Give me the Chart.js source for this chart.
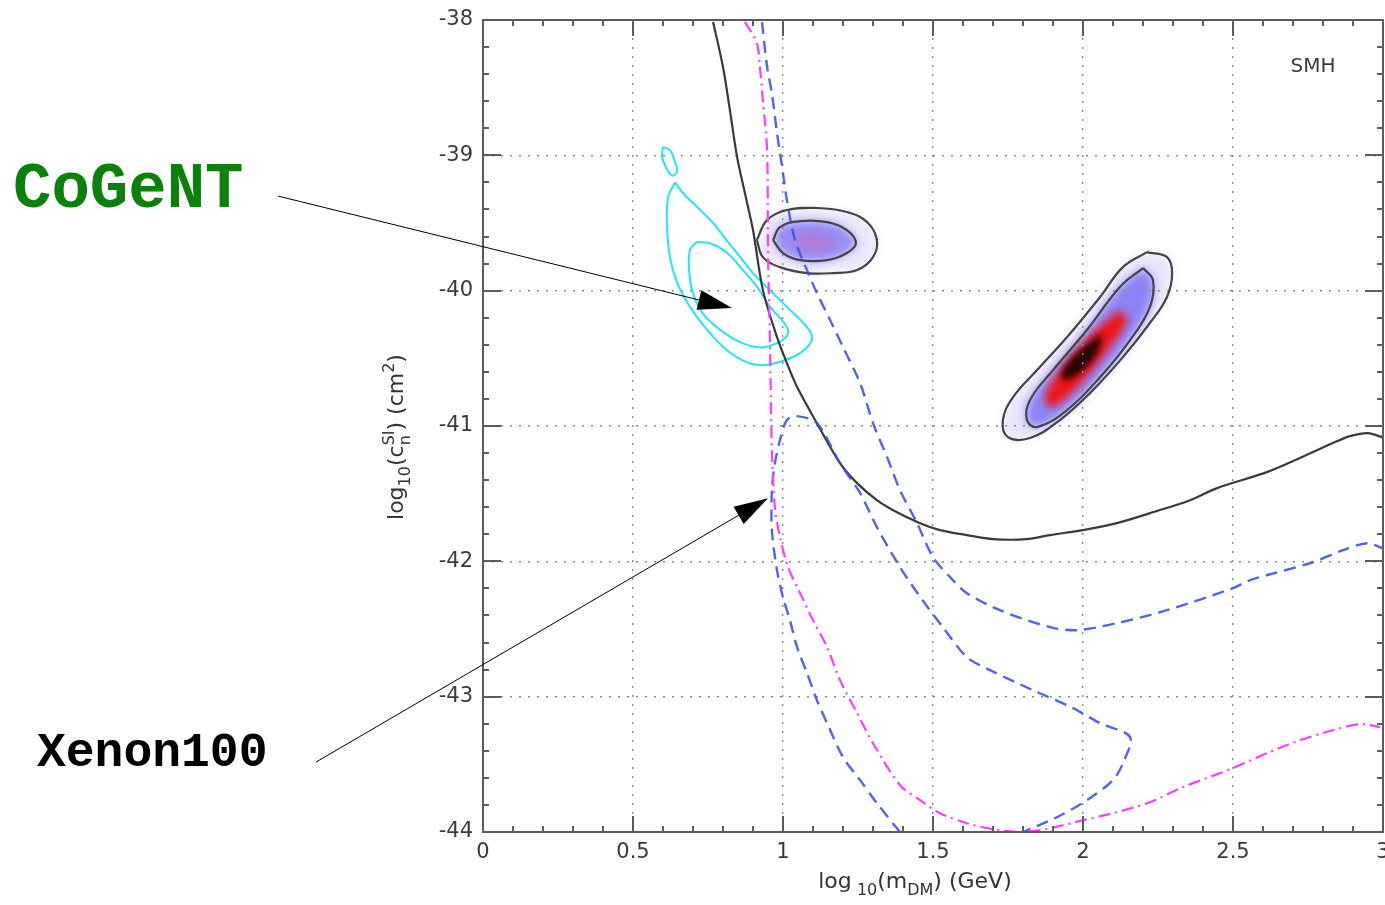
<!DOCTYPE html>
<html>
<head>
<meta charset="utf-8">
<title>SMH – spin-independent cross section vs DM mass</title>
<script src="https://cdn.jsdelivr.net/npm/chart.js@4.4.1/dist/chart.umd.min.js"></script>
<style>
  html, body { margin: 0; padding: 0; background: #fff; }
  #wrap { width: 1385px; height: 905px; }
</style>
</head>
<body>
<div id="wrap"><canvas id="plot" width="1385" height="905"></canvas></div>
<script>
/* ===================== AXES ===================== */

const X_TICKS = [0, 0.5, 1, 1.5, 2, 2.5, 3];
const X_TICK_LABELS = ["0", "0.5", "1", "1.5", "2", "2.5", "3"];
const Y_TICKS = [-44, -43, -42, -41, -40, -39, -38];
const Y_TICK_LABELS = ["-44", "-43", "-42", "-41", "-40", "-39", "-38"];
const X_MINOR_STEP = 0.1;
const Y_MINOR_STEP = 0.2;

/* ===================== LIMIT CURVES ===================== */

// solid black exclusion curve
const BLACK_X = [0.767, 0.80, 0.823, 0.847, 0.873, 0.90, 0.933, 0.98, 1.013, 1.047, 1.113, 1.19, 1.247, 1.313, 1.367, 1.457, 1.523, 1.613, 1.70, 1.813, 1.89, 2.0, 2.113, 2.223, 2.357, 2.447, 2.613, 2.723, 2.833, 2.89, 2.95, 2.997];
const BLACK_Y = [-38.015, -38.347, -38.665, -39.013, -39.279, -39.552, -39.996, -40.343, -40.535, -40.712, -40.979, -41.274, -41.422, -41.548, -41.622, -41.718, -41.769, -41.806, -41.836, -41.836, -41.806, -41.769, -41.718, -41.644, -41.548, -41.459, -41.341, -41.237, -41.126, -41.075, -41.052, -41.082];

// magenta dash-dot curve
const MAGENTA_X = [0.873, 0.913, 0.923, 0.933, 0.947, 0.95, 0.957, 0.963, 0.973, 0.99, 1.017, 1.057, 1.10, 1.147, 1.19, 1.247, 1.30, 1.39, 1.457, 1.523, 1.613, 1.70, 1.80, 1.89, 2.0, 2.113, 2.223, 2.333, 2.50, 2.613, 2.723, 2.833, 2.923, 2.99];
const MAGENTA_Y = [-38.015, -38.17, -38.347, -38.591, -38.961, -39.70, -40.439, -41.178, -41.599, -41.821, -42.043, -42.235, -42.435, -42.634, -42.878, -43.122, -43.344, -43.654, -43.765, -43.861, -43.935, -43.979, -44.0, -43.972, -43.913, -43.854, -43.78, -43.669, -43.528, -43.418, -43.322, -43.248, -43.203, -43.225];

// blue dashed, upper branch
const BLUE_A_X = [0.93, 0.947, 0.963, 0.98, 0.997, 1.013, 1.04, 1.08, 1.113, 1.157, 1.20, 1.257, 1.30, 1.347, 1.39, 1.447, 1.50, 1.557, 1.613, 1.723, 1.89, 1.98, 2.113, 2.28, 2.50, 2.557, 2.757, 2.867, 2.947, 2.997];
const BLUE_A_Y = [-38.015, -38.347, -38.54, -38.835, -39.086, -39.33, -39.626, -39.848, -40.018, -40.217, -40.417, -40.683, -40.979, -41.23, -41.474, -41.718, -41.969, -42.117, -42.235, -42.361, -42.486, -42.509, -42.457, -42.361, -42.198, -42.139, -42.013, -41.917, -41.866, -41.902];

// blue dashed, lower loop (path order)
const BLUE_B_X = [1.39, 1.313, 1.257, 1.20, 1.147, 1.113, 1.08, 1.047, 1.023, 1.0, 0.98, 0.963, 0.963, 0.973, 0.99, 1.013, 1.047, 1.113, 1.19, 1.257, 1.313, 1.39, 1.465, 1.533, 1.613, 1.69, 1.833, 1.967, 2.057, 2.157, 2.133, 2.10, 2.013, 1.913, 1.80];
const BLUE_B_Y = [-44.0, -43.787, -43.617, -43.447, -43.196, -43.026, -42.826, -42.634, -42.435, -42.265, -42.065, -41.769, -41.474, -41.274, -41.104, -40.956, -40.927, -40.979, -41.274, -41.496, -41.747, -42.043, -42.287, -42.487, -42.708, -42.804, -42.952, -43.085, -43.196, -43.299, -43.492, -43.617, -43.765, -43.891, -44.0];

/* ===================== CoGeNT CONTOURS ===================== */

const CYAN_OUT_X = [0.64, 0.617, 0.613, 0.623, 0.647, 0.69, 0.747, 0.813, 0.88, 0.923, 0.967, 1.033, 1.08, 1.097, 1.08, 1.013, 0.967, 0.9, 0.857, 0.813, 0.767, 0.713, 0.667, 0.64];
const CYAN_OUT_Y = [-39.20, -39.31, -39.50, -39.75, -39.94, -40.12, -40.29, -40.44, -40.53, -40.55, -40.54, -40.49, -40.42, -40.35, -40.27, -40.12, -40.02, -39.87, -39.75, -39.63, -39.50, -39.38, -39.28, -39.20];
const CYAN_IN_X = [0.713, 0.69, 0.687, 0.70, 0.733, 0.79, 0.857, 0.923, 0.967, 1.007, 1.017, 0.997, 0.957, 0.913, 0.867, 0.813, 0.757, 0.713];
const CYAN_IN_Y = [-39.64, -39.70, -39.85, -40.02, -40.17, -40.29, -40.38, -40.42, -40.40, -40.35, -40.29, -40.22, -40.12, -39.97, -39.85, -39.72, -39.65, -39.64];
const CYAN_ISLAND_X = [0.60, 0.623, 0.64, 0.647, 0.63, 0.61, 0.597, 0.60];
const CYAN_ISLAND_Y = [-38.94, -38.96, -39.05, -39.12, -39.15, -39.09, -39.01, -38.94];

/* ===================== SMH LIKELIHOOD BLOBS ===================== */

const SMALL_OUT_X = [0.913, 0.947, 1.013, 1.113, 1.213, 1.28, 1.313, 1.30, 1.247, 1.167, 1.08, 0.99, 0.933, 0.913];
const SMALL_OUT_Y = [-39.626, -39.478, -39.404, -39.389, -39.419, -39.493, -39.626, -39.752, -39.848, -39.870, -39.870, -39.826, -39.752, -39.626];
const SMALL_IN_X = [0.967, 0.99, 1.057, 1.147, 1.213, 1.243, 1.213, 1.147, 1.057, 1.0, 0.967];
const SMALL_IN_Y = [-39.626, -39.530, -39.486, -39.493, -39.552, -39.648, -39.722, -39.774, -39.774, -39.722, -39.626];
const SMALL_CORE_X = [1.033, 1.057, 1.10, 1.15, 1.173, 1.15, 1.10, 1.057, 1.033];
const SMALL_CORE_Y = [-39.641, -39.589, -39.574, -39.596, -39.641, -39.693, -39.707, -39.693, -39.641];

const BIG_OUT_X = [2.213, 2.28, 2.297, 2.28, 2.223, 2.133, 2.023, 1.923, 1.823, 1.75, 1.733, 1.767, 1.847, 1.947, 2.057, 2.133, 2.213];
const BIG_OUT_Y = [-39.715, -39.752, -39.870, -40.047, -40.239, -40.491, -40.757, -40.956, -41.089, -41.082, -40.956, -40.786, -40.587, -40.343, -40.047, -39.826, -39.715];
const BIG_IN_X = [2.20, 2.233, 2.223, 2.157, 2.057, 1.947, 1.847, 1.813, 1.823, 1.90, 2.013, 2.123, 2.20];
const BIG_IN_Y = [-39.833, -39.922, -40.121, -40.365, -40.639, -40.882, -41.008, -40.956, -40.809, -40.587, -40.291, -39.973, -39.833];
const BIG_RED_X = [2.123, 2.147, 2.10, 2.023, 1.947, 1.89, 1.873, 1.923, 2.0, 2.08, 2.123];
const BIG_RED_Y = [-40.143, -40.217, -40.387, -40.609, -40.786, -40.860, -40.786, -40.587, -40.387, -40.217, -40.143];
const BIG_CORE_X = [2.067, 2.047, 1.99, 1.933, 1.933, 1.99, 2.067];
const BIG_CORE_Y = [-40.313, -40.461, -40.609, -40.661, -40.587, -40.439, -40.313];

/* ===================== ANNOTATIONS (data coords) ===================== */

const COGENT_ARROW = [[-0.683, -39.301], [0.83, -40.129]];
const XENON_ARROW = [[-0.557, -43.484], [0.95, -41.533]];

/* ===================== HELPERS ===================== */

const FONT = '"DejaVu Sans", "Liberation Sans", sans-serif';

function pts(xs, ys) {
  return xs.map((x, i) => ({ x, y: ys[i] }));
}

function curve(label, xs, ys, style) {
  return Object.assign(
    { label, data: pts(xs, ys), showLine: true, pointRadius: 0, fill: false, tension: 0.3 },
    style
  );
}

function shadeLayer(label, xs, ys, color, blur) {
  return curve(label, xs, ys, { borderWidth: 0, tension: 0.4, shade: color, shadeBlur: blur });
}

const CONTOUR = { borderColor: "#444", borderWidth: 2.2, tension: 0.4 };
const BLUE = { borderColor: "rgba(58,76,240,0.88)", borderWidth: 2.4, borderDash: [12, 7] };
const CYAN = { borderColor: "#1ee8f2", borderWidth: 2, tension: 0.35 };

/* ===================== PLUGINS ===================== */

// soft filled bands under the grid
const blobShade = {
  id: "blobShade",
  beforeDraw(chart) {
    const ctx = chart.ctx;
    chart.data.datasets.forEach((ds, i) => {
      if (!ds.shade) return;
      const el = chart.getDatasetMeta(i).dataset;
      if (!el) return;
      el.updateControlPoints(chart.chartArea, "x");
      ctx.save();
      ctx.filter = `blur(${ds.shadeBlur}px)`;
      ctx.fillStyle = ds.shade;
      ctx.beginPath();
      el.path(ctx);
      ctx.closePath();
      ctx.fill();
      ctx.restore();
    });
  },
};

// frame + inward major/minor ticks on all four sides
const frameTicks = {
  id: "frameTicks",
  afterDatasetsDraw(chart) {
    const { ctx, chartArea: a } = chart;
    const { x, y } = chart.scales;
    ctx.save();
    ctx.strokeStyle = "#5c5c5c";
    ctx.lineWidth = 2;
    ctx.beginPath();
    const nx = Math.round((x.max - x.min) / X_MINOR_STEP);
    for (let i = 0; i <= nx; i++) {
      const v = x.min + i * X_MINOR_STEP;
      const major = X_TICKS.some((t) => Math.abs(t - v) < 1e-6);
      const px = Math.round(x.getPixelForValue(v));
      const len = major ? 16 : 6;
      ctx.moveTo(px, a.bottom); ctx.lineTo(px, a.bottom - len);
      ctx.moveTo(px, a.top); ctx.lineTo(px, a.top + len);
    }
    const ny = Math.round((y.max - y.min) / Y_MINOR_STEP);
    for (let i = 0; i <= ny; i++) {
      const v = y.min + i * Y_MINOR_STEP;
      const major = Y_TICKS.some((t) => Math.abs(t - v) < 1e-6);
      const py = Math.round(y.getPixelForValue(v));
      const len = major ? 18 : 6;
      ctx.moveTo(a.left, py); ctx.lineTo(a.left + len, py);
      ctx.moveTo(a.right, py); ctx.lineTo(a.right - len, py);
    }
    ctx.stroke();
    ctx.strokeRect(a.left, a.top, a.right - a.left, a.bottom - a.top);
    ctx.restore();
  },
};

// text with sub/superscripts; kind 0 normal, 1 sub, 2 sup, 3 stacked [sup, sub]
function drawRich(ctx, parts, cx, by, size) {
  const small = Math.round(size * 0.72);
  const setFont = (s) => { ctx.font = `${s}px ${FONT}`; };
  const widthOf = ([t, k]) => {
    setFont(k === 0 ? size : small);
    if (k === 3) return Math.max(ctx.measureText(t[0]).width, ctx.measureText(t[1]).width);
    return ctx.measureText(t).width;
  };
  const total = parts.reduce((s, p) => s + widthOf(p), 0);
  let x = cx - total / 2;
  ctx.textAlign = "left";
  ctx.textBaseline = "alphabetic";
  for (const p of parts) {
    const w = widthOf(p);
    const [t, k] = p;
    if (k === 0) ctx.fillText(t, x, by);
    else if (k === 1) ctx.fillText(t, x, by + size * 0.3);
    else if (k === 2) ctx.fillText(t, x, by - size * 0.42);
    else {
      ctx.fillText(t[0], x, by - size * 0.42);
      ctx.fillText(t[1], x, by + size * 0.3);
    }
    x += w;
  }
}

function arrow(ctx, x0, y0, x1, y1) {
  const ang = Math.atan2(y1 - y0, x1 - x0);
  const len = 34, half = 10;
  const bx = x1 - len * Math.cos(ang);
  const by = y1 - len * Math.sin(ang);
  ctx.beginPath();
  ctx.moveTo(x0, y0);
  ctx.lineTo(bx, by);
  ctx.stroke();
  ctx.beginPath();
  ctx.moveTo(x1, y1);
  ctx.lineTo(bx - half * Math.sin(ang), by + half * Math.cos(ang));
  ctx.lineTo(bx + half * Math.sin(ang), by - half * Math.cos(ang));
  ctx.closePath();
  ctx.fill();
}

const labels = {
  id: "labels",
  afterDraw(chart) {
    const { ctx } = chart;
    const { x, y } = chart.scales;
    ctx.save();

    // axis titles
    ctx.fillStyle = "#333";
    drawRich(ctx, [["log", 0], [" 10", 1], ["(m", 0], ["DM", 1], [")", 0], [" (GeV)", 0]], 915, 888, 22);
    ctx.save();
    ctx.translate(403, 437);
    ctx.rotate(-Math.PI / 2);
    drawRich(ctx, [["log", 0], ["10", 1], ["(c", 0], [["SI", "n"], 3], [")", 0], [" (cm", 0], ["2", 2], [")", 0]], 0, 0, 22);
    ctx.restore();

    // panel tag
    ctx.fillStyle = "#3c3c3c";
    ctx.font = `20px ${FONT}`;
    ctx.textAlign = "center";
    ctx.textBaseline = "middle";
    ctx.fillText("SMH", 1313, 67);

    // experiment labels + arrows
    ctx.strokeStyle = "#000";
    ctx.fillStyle = "#000";
    ctx.lineWidth = 1;
    for (const [[fx, fy], [tx, ty]] of [COGENT_ARROW, XENON_ARROW]) {
      arrow(ctx, x.getPixelForValue(fx), y.getPixelForValue(fy), x.getPixelForValue(tx), y.getPixelForValue(ty));
    }
    ctx.textAlign = "left";
    ctx.textBaseline = "alphabetic";
    ctx.font = 'bold 64px "Liberation Mono", "Courier New", monospace';
    ctx.fillStyle = "#0a820a";
    ctx.fillText("CoGeNT", 13, 207);
    ctx.font = 'bold 48px "Liberation Mono", "Courier New", monospace';
    ctx.fillStyle = "#000";
    ctx.fillText("Xenon100", 37, 766);
    ctx.restore();
  },
};

/* ===================== CHART ===================== */

const datasets = [
  curve("Xenon100 (alt)", MAGENTA_X, MAGENTA_Y, { borderColor: "#ff3cff", borderWidth: 2.2, borderDash: [12, 5, 2, 5], tension: 0.3 }),
  curve("upper dashed", BLUE_A_X, BLUE_A_Y, BLUE),
  curve("lower dashed", BLUE_B_X, BLUE_B_Y, BLUE),
  curve("Xenon100", BLACK_X, BLACK_Y, { borderColor: "#3a3a3a", borderWidth: 2.2 }),
  curve("CoGeNT 90%", CYAN_OUT_X, CYAN_OUT_Y, CYAN),
  curve("CoGeNT 68%", CYAN_IN_X, CYAN_IN_Y, CYAN),
  curve("CoGeNT island", CYAN_ISLAND_X, CYAN_ISLAND_Y, CYAN),
  curve("SMH low 2σ", SMALL_OUT_X, SMALL_OUT_Y, CONTOUR),
  curve("SMH low 1σ", SMALL_IN_X, SMALL_IN_Y, CONTOUR),
  curve("SMH high 2σ", BIG_OUT_X, BIG_OUT_Y, CONTOUR),
  curve("SMH high 1σ", BIG_IN_X, BIG_IN_Y, CONTOUR),
  // shaded bands (drawn by blobShade, outer first)
  shadeLayer("small outer", SMALL_OUT_X, SMALL_OUT_Y, "#ebe7fc", 4),
  shadeLayer("small inner", SMALL_IN_X, SMALL_IN_Y, "#968ef4", 4),
  shadeLayer("small core", SMALL_CORE_X, SMALL_CORE_Y, "#b27ad6", 4),
  shadeLayer("big outer", BIG_OUT_X, BIG_OUT_Y, "#e8e4fb", 5),
  shadeLayer("big inner", BIG_IN_X, BIG_IN_Y, "#8c84f6", 4),
  shadeLayer("big red", BIG_RED_X, BIG_RED_Y, "#f01515", 4),
  shadeLayer("big core", BIG_CORE_X, BIG_CORE_Y, "#2a0404", 3),
];

const GRID = { color: "#8a8a8a", lineWidth: 1.4, drawTicks: false };
const TICK_FONT = { family: "DejaVu Sans", size: 21 };

new Chart(document.getElementById("plot"), {
  type: "scatter",
  data: { datasets },
  options: {
    responsive: false,
    animation: false,
    layout: { padding: { top: 20, right: 2, left: 0, bottom: 0 } },
    plugins: { legend: { display: false }, tooltip: { enabled: false } },
    scales: {
      x: {
        type: "linear",
        min: 0,
        max: 3,
        afterBuildTicks: (s) => { s.ticks = X_TICKS.map((value) => ({ value })); },
        afterFit: (s) => { s.height = 73; s.paddingLeft = 0; s.paddingRight = 0; },
        ticks: { color: "#3a3a3a", font: TICK_FONT, padding: 8, maxRotation: 0, autoSkip: false,
                 callback: (v, i) => X_TICK_LABELS[i] },
        grid: GRID,
        border: { display: false, dash: [2, 7] },
      },
      y: {
        type: "linear",
        min: -44,
        max: -38,
        afterBuildTicks: (s) => { s.ticks = Y_TICKS.map((value) => ({ value })); },
        afterFit: (s) => { s.width = 483; s.paddingTop = 0; s.paddingBottom = 0; },
        ticks: { color: "#3a3a3a", font: TICK_FONT, padding: 10, autoSkip: false,
                 callback: (v, i) => Y_TICK_LABELS[i] },
        grid: GRID,
        border: { display: false, dash: [2, 7] },
      },
    },
  },
  plugins: [blobShade, frameTicks, labels],
});
</script>
</body>
</html>
